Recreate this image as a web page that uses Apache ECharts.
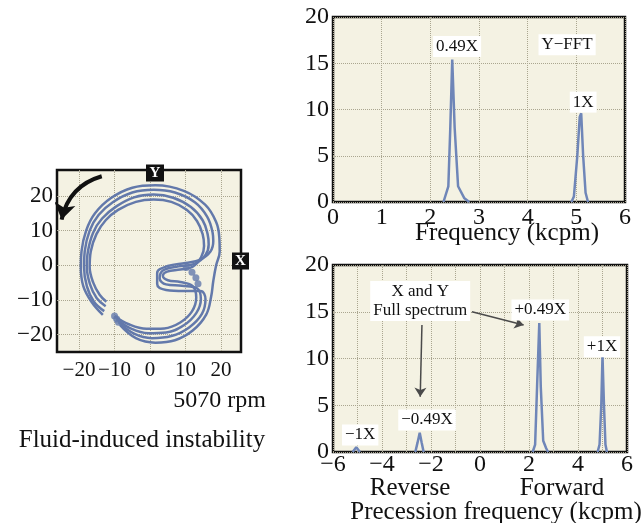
<!DOCTYPE html>
<html>
<head>
<meta charset="utf-8">
<title>Fluid-induced instability</title>
<script src="https://cdn.jsdelivr.net/npm/echarts@6/dist/echarts.min.js"></script>
<style>
  html, body { margin: 0; padding: 0; background: #fff; }
  #main { width: 644px; height: 523px; }
</style>
</head>
<body>
<div id="main"></div>
<script>
// orbit traces, inner to outer (x, y in mils)
var orbit1 = [[-10,-14.6],[-6,-17],[-1,-18.3],[4,-18.2],[8.5,-16.5],[11.8,-13.3],[13,-9.3],[12,-6],[8.5,-4.8],[5,-4.3],[3.6,-3],[4.8,-1.8],[8.5,-1.2],[12,-0.4],[14.4,2.4],[15.2,5.6],[14.8,9],[13.2,12.8],[10.3,16],[6,18.3],[1,19],[-4,18.3],[-9,16],[-12.5,13],[-15.1,9],[-16.7,4],[-17,-0.5],[-16,-5],[-14.2,-8.5],[-12.3,-10.5]];
var orbit2 = [[-9.4,-15.5],[-5.5,-18.2],[-0.5,-19.6],[4.5,-19.4],[9.5,-17.3],[13,-13.8],[14.3,-9.8],[13.2,-6.6],[9,-5.9],[4.5,-5.5],[2.7,-3.7],[3.7,-1.4],[8,-0.3],[12.5,0.4],[15.6,3],[16.5,6],[16.2,9],[14.8,13],[11.5,16.8],[6.5,19.5],[1,20.4],[-4.5,19.6],[-9.5,17],[-13.5,13.5],[-16,9.5],[-17.5,4],[-17.8,-0.5],[-16.9,-5.5],[-15,-9.5],[-12.5,-11.8]];
var orbit3 = [[-8.9,-16.4],[-4.5,-19.7],[0.5,-21],[6,-20.4],[11,-17.9],[14.6,-14],[15.6,-9.8],[14.2,-7.4],[9.5,-7.4],[4.5,-7.1],[2,-5.4],[2,-2.2],[5,-0.2],[10,0.7],[14,1.6],[17,4],[17.8,7],[17.6,9.5],[16.1,14],[12.6,18.2],[7,21],[1,21.8],[-5,21],[-10.5,18.2],[-14.5,14.5],[-17,10],[-18.4,4],[-18.6,-0.5],[-17.8,-6],[-15.8,-10.5],[-12.9,-13.2]];
var orbit4 = [[-8.5,-17.2],[-4,-21],[1.5,-22.3],[7,-21.6],[12,-18.8],[15.8,-14.2],[17.2,-9],[17.8,-4.5],[18.6,0],[19.6,4],[19.5,8],[18.6,12.5],[15.5,17.5],[9.5,21.5],[1.5,23.1],[-5,22.4],[-11,19.4],[-15.5,15],[-18,10],[-19.3,4],[-19.5,-0.5],[-18.8,-6],[-16.5,-10.5],[-13.3,-14.3]];
// keyphasor dots
var orbitDots = [[10.2,-0.6],[11.8,-2],[12.9,-3.6],[13.5,-5.3],[-10,-14.6],[-9.4,-15.5],[-8.9,-16.4]];

// Y-FFT (kcpm, amplitude), null separates the peaks
var fftFreq = [2.27, 2.37, 2.41, 2.45, 2.5, 2.57, 2.7, 2.8, null, 4.9, 4.95, 5.02, 5.07, 5.1, 5.14, 5.19, 5.24];
var fftAmp  = [0,    1.7,  8,    15.4, 8,   1.7,  0.4, 0,   null, 0,   0.6,  5,    9.2,  9.6, 5,    1,    0];

// full spectrum, negative = reverse
var fullFreq = [-5.2, -5.05, -4.9, null, -2.64, -2.55, -2.46, -2.38, -2.3, null, 2.15, 2.25, 2.33, 2.42, 2.48, 2.58, 2.7, 2.78, null, 4.8, 4.88, 4.95, 5.0, 5.06, 5.12, 5.18];
var fullAmp  = [0,    0.5,   0,    null, 0,     1,     2.06,  1,     0,    null, 0,    0.8,  7,    13.8, 7,    1.2,  0.4, 0,    null, 0,   0.8,  5,    10.3, 5,    0.8,  0];

var orbitTicks = [-20, -10, 0, 10, 20];

var SERIF = 'Liberation Serif';
var INK = '#111';
var TRACE = '#6379ab';
var PAPER = '#f4f2e3';
var DOT_GRID = { show: true, lineStyle: { type: 'dotted', color: '#aaa690', width: 1 } };

function minus(v) { return String(v).replace('-', '\u2212'); }

function peaks(xs, ys) {
    var out = [], cur = [];
    xs.forEach(function (x, i) {
        if (x === null) { out.push(cur); cur = []; }
        else cur.push([x, ys[i]]);
    });
    out.push(cur);
    return out;
}

function axisLabel(size, margin, extra) {
    var l = { color: INK, fontFamily: SERIF, fontSize: size, margin: margin, formatter: minus,
              showMinLabel: true, showMaxLabel: true, hideOverlap: false };
    for (var k in extra) l[k] = extra[k];
    return l;
}

var series = [];

[orbit1, orbit2, orbit3, orbit4].forEach(function (d) {
    series.push({
        type: 'line', xAxisIndex: 0, yAxisIndex: 0, data: d,
        smooth: 0.4, symbol: 'none', z: 3,
        lineStyle: { color: TRACE, width: 2.5 }
    });
});
series.push({
    type: 'scatter', xAxisIndex: 0, yAxisIndex: 0, data: orbitDots,
    symbolSize: 7, itemStyle: { color: TRACE }, z: 4
});
// precession direction arrow
series.push({
    type: 'lines', coordinateSystem: 'cartesian2d', xAxisIndex: 0, yAxisIndex: 0,
    silent: true, z: 5,
    symbol: ['none', 'arrow'], symbolSize: 16,
    lineStyle: { color: INK, width: 4, opacity: 1, curveness: -0.3 },
    data: [{ coords: [[-13.6, 25.7], [-24.9, 13.2]] }]
});

var peakLabel = {
    show: true, position: 'inside', formatter: '{b}', color: INK,
    fontFamily: SERIF, fontSize: 17, lineHeight: 19,
    backgroundColor: '#fff', padding: [1, 3]
};

peaks(fftFreq, fftAmp).forEach(function (d, i) {
    var s = {
        type: 'line', xAxisIndex: 1, yAxisIndex: 1, data: d,
        symbol: 'none', z: 3, lineStyle: { color: '#6f86b8', width: 2.5 }
    };
    if (i === 0) {
        s.markPoint = {
            symbol: 'rect', symbolSize: 1, itemStyle: { color: 'rgba(0,0,0,0)' },
            label: peakLabel, silent: true,
            data: [
                { name: '0.49X', coord: [2.55, 16.8] },
                { name: 'Y\u2212FFT', coord: [4.81, 17.0] },
                { name: '1X', coord: [5.14, 10.8] }
            ]
        };
    }
    series.push(s);
});

peaks(fullFreq, fullAmp).forEach(function (d, i) {
    var s = {
        type: 'line', xAxisIndex: 2, yAxisIndex: 2, data: d,
        symbol: 'none', z: 3, lineStyle: { color: '#6f86b8', width: 2.5 }
    };
    if (i === 0) {
        s.markPoint = {
            symbol: 'rect', symbolSize: 1, itemStyle: { color: 'rgba(0,0,0,0)' },
            label: peakLabel, silent: true,
            data: [
                { name: 'X and Y\nFull spectrum', coord: [-2.44, 16.15] },
                { name: '+0.49X', coord: [2.46, 15.2] },
                { name: '+1X', coord: [4.98, 11.26] },
                { name: '\u22120.49X', coord: [-2.16, 3.42] },
                { name: '\u22121X', coord: [-4.89, 1.82] }
            ]
        };
        s.markLine = {
            silent: true, symbol: ['none', 'arrow'], symbolSize: 9,
            label: { show: false },
            lineStyle: { color: '#4a4a4a', width: 1.5, type: 'solid' },
            data: [
                [{ coord: [-0.33, 15.0] }, { coord: [1.78, 13.58] }],
                [{ coord: [-2.37, 13.58] }, { coord: [-2.44, 5.92] }]
            ]
        };
    }
    series.push(s);
});

var frame = { show: true, backgroundColor: PAPER, borderColor: INK, borderWidth: 2.5, outerBoundsMode: 'none' };
function grid(l, t, w, h) {
    var g = { left: l, top: t, width: w, height: h };
    for (var k in frame) g[k] = frame[k];
    return g;
}

function label(text, x, y, size, align) {
    return { type: 'text', x: x, y: y, style: { text: text, fill: INK, fontFamily: SERIF, fontSize: size, textAlign: align || 'center', textVerticalAlign: 'middle' } };
}

var option = {
    animation: false,
    backgroundColor: '#fff',
    textStyle: { fontFamily: SERIF },
    grid: [
        grid(57, 170, 184, 182),
        grid(333, 17, 292, 185),
        grid(333, 265, 294, 187)
    ],
    xAxis: [
        {
            gridIndex: 0, type: 'value', min: -26.2, max: 25.6,
            axisLine: { show: false },
            axisTick: { show: false, customValues: orbitTicks },
            axisLabel: axisLabel(21, 8, { customValues: orbitTicks }),
            splitLine: DOT_GRID
        },
        {
            gridIndex: 1, type: 'value', min: 0, max: 6, interval: 1,
            axisLine: { show: false }, axisTick: { show: false },
            axisLabel: axisLabel(24, 4, {}),
            splitLine: DOT_GRID
        },
        {
            gridIndex: 2, type: 'value', min: -6, max: 6, interval: 1,
            axisLine: { show: false }, axisTick: { show: false },
            axisLabel: axisLabel(24, 1, {
                formatter: function (v) { return v % 2 === 0 ? minus(v) : ''; }
            }),
            splitLine: DOT_GRID
        }
    ],
    yAxis: [
        {
            gridIndex: 0, type: 'value', min: -25, max: 27.5,
            axisLine: { show: false },
            axisTick: { show: false, customValues: orbitTicks },
            axisLabel: axisLabel(23, 4, { customValues: orbitTicks }),
            splitLine: DOT_GRID
        },
        {
            gridIndex: 1, type: 'value', min: 0, max: 20, interval: 5,
            axisLine: { show: false }, axisTick: { show: false },
            axisLabel: axisLabel(24, 4, {}),
            splitLine: DOT_GRID
        },
        {
            gridIndex: 2, type: 'value', min: 0, max: 20, interval: 5,
            axisLine: { show: false }, axisTick: { show: false },
            axisLabel: axisLabel(24, 4, {}),
            splitLine: DOT_GRID
        }
    ],
    graphic: [
        { type: 'rect', z: 100, shape: { x: 146, y: 164.5, width: 18, height: 17 }, style: { fill: INK } },
        { type: 'text', z: 101, x: 155, y: 173.5, style: { text: 'Y', fill: '#fff', fontFamily: SERIF, fontWeight: 'bold', fontSize: 15, textAlign: 'center', textVerticalAlign: 'middle' } },
        { type: 'rect', z: 100, shape: { x: 232, y: 252.5, width: 17, height: 17 }, style: { fill: INK } },
        { type: 'text', z: 101, x: 240.5, y: 261.5, style: { text: 'X', fill: '#fff', fontFamily: SERIF, fontWeight: 'bold', fontSize: 15, textAlign: 'center', textVerticalAlign: 'middle' } },
        label('5070 rpm', 266, 401, 24, 'right'),
        label('Fluid-induced instability', 142, 440, 25),
        label('Frequency (kcpm)', 507, 233, 25),
        label('Reverse', 410, 488, 25),
        label('Forward', 562, 488, 25),
        label('Precession frequency (kcpm)', 496, 512, 25)
    ],
    series: series
};

var chart = echarts.init(document.getElementById('main'));
chart.setOption(option);
</script>
</body>
</html>
